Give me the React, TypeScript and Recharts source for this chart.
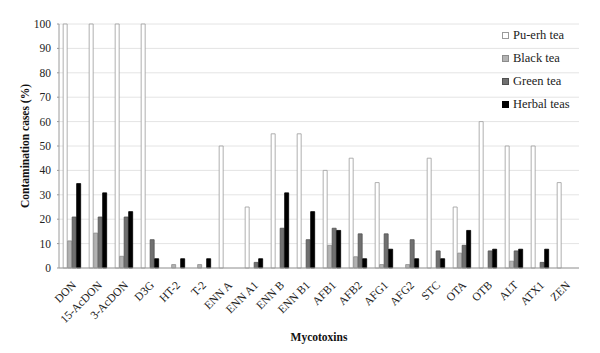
import React from 'react';
import { ComposedChart, XAxis, YAxis, Bar, CartesianGrid, Legend, Label } from 'recharts';

const toxins = ['DON', '15-AcDON', '3-AcDON', 'D3G', 'HT-2', 'T-2', 'ENN A', 'ENN A1', 'ENN B', 'ENN B1', 'AFB1', 'AFB2', 'AFG1', 'AFG2', 'STC', 'OTA', 'OTB', 'ALT', 'ATX1', 'ZEN'];
const puerh = [100, 100, 100, 100, 0, 0, 50, 25, 55, 55, 40, 45, 35, 0, 45, 25, 60, 50, 50, 35];
const blackTea = [11.1, 14.3, 4.8, 0, 1.4, 1.4, 0, 0, 0, 0, 9.3, 4.6, 1.4, 1.4, 0, 6.1, 0, 2.8, 0, 0];
const greenTea = [20.9, 20.9, 20.9, 11.6, 0, 0, 0, 2.3, 16.3, 11.6, 16.3, 14.0, 14.0, 11.6, 7.0, 9.3, 7.0, 7.0, 2.3, 0];
const herbal = [34.6, 30.8, 23.1, 3.8, 3.8, 3.8, 0, 3.8, 30.8, 23.1, 15.4, 3.8, 7.7, 3.8, 3.8, 15.4, 7.7, 7.7, 7.7, 0];
const yTicks = [0, 10, 20, 30, 40, 50, 60, 70, 80, 90, 100];

const series = [
  { key: 'puerh', name: 'Pu-erh tea', fill: '#ffffff', stroke: '#9a9a9a' },
  { key: 'black', name: 'Black tea', fill: '#b3b3b3', stroke: '#8c8c8c' },
  { key: 'green', name: 'Green tea', fill: '#707070', stroke: '#505050' },
  { key: 'herbal', name: 'Herbal teas', fill: '#000000', stroke: '#000000' },
];

const data = toxins.map((t, i) => ({
  name: t,
  puerh: puerh[i],
  black: blackTea[i],
  green: greenTea[i],
  herbal: herbal[i],
}));

const font = '"Liberation Serif", "DejaVu Serif", serif';

const XTick = (props: any) => {
  const { x, y, payload } = props;
  return (
    <g transform={`translate(${x + 2},${y + 7})`}>
      <text transform="rotate(-45)" textAnchor="end" fontSize={11.5} fontFamily={font} fill="#222" dy={4}>
        {payload.value}
      </text>
    </g>
  );
};

const LegendBox = () => (
  <div style={{ fontFamily: font, fontSize: 12.5, color: '#222' }}>
    {series.map((s) => (
      <div key={s.key} style={{ display: 'flex', alignItems: 'center', height: 22.9, whiteSpace: 'nowrap' }}>
        <span style={{ display: 'inline-block', width: 5, height: 5, background: s.fill, border: `1px solid ${s.stroke}`, marginRight: 4 }} />
        <span>{s.name}</span>
      </div>
    ))}
  </div>
);

export default function App() {
  return (
    <div style={{ position: 'absolute', left: 0, top: 0, width: 600, height: 353, background: '#fff' }}>
      <ComposedChart width={600} height={353} data={data} margin={{ top: 24, right: 21, left: 14, bottom: 30 }} barCategoryGap="16%" barGap={0.5}>
        <CartesianGrid vertical={false} stroke="#e4e4e4" strokeWidth={1} />
        <XAxis
          dataKey="name"
          interval={0}
          tick={<XTick />}
          tickLine={false}
          axisLine={{ stroke: '#9a9a9a' }}
          height={55}
        >
          <Label value="Mycotoxins" position="insideBottom" offset={-18} style={{ fontFamily: font, fontWeight: 'bold', fontSize: 11.5, fill: '#111' }} />
        </XAxis>
        <YAxis
          domain={[0, 100]}
          ticks={yTicks}
          interval={0}
          width={45}
          tickSize={2}
          tickMargin={6}
          tickLine={{ stroke: '#9a9a9a' }}
          axisLine={{ stroke: '#9a9a9a' }}
          tick={{ fontFamily: font, fontSize: 11.5, fill: '#222' }}
        >
          <Label value="Contamination cases  (%)" angle={-90} position="insideLeft" offset={11} style={{ fontFamily: font, fontWeight: 'bold', fontSize: 11.5, fill: '#111', textAnchor: 'middle' }} />
        </YAxis>
        <Legend
          layout="vertical"
          align="center"
          verticalAlign="middle"
          content={<LegendBox />}
          wrapperStyle={{ position: 'absolute', top: 24, left: 502, right: 'auto', bottom: 'auto', width: 'auto' }}
        />
        {series.map((s) => (
          <Bar key={s.key} dataKey={s.key} name={s.name} fill={s.fill} stroke={s.stroke} strokeWidth={0.8} isAnimationActive={false} />
        ))}
      </ComposedChart>
    </div>
  );
}
